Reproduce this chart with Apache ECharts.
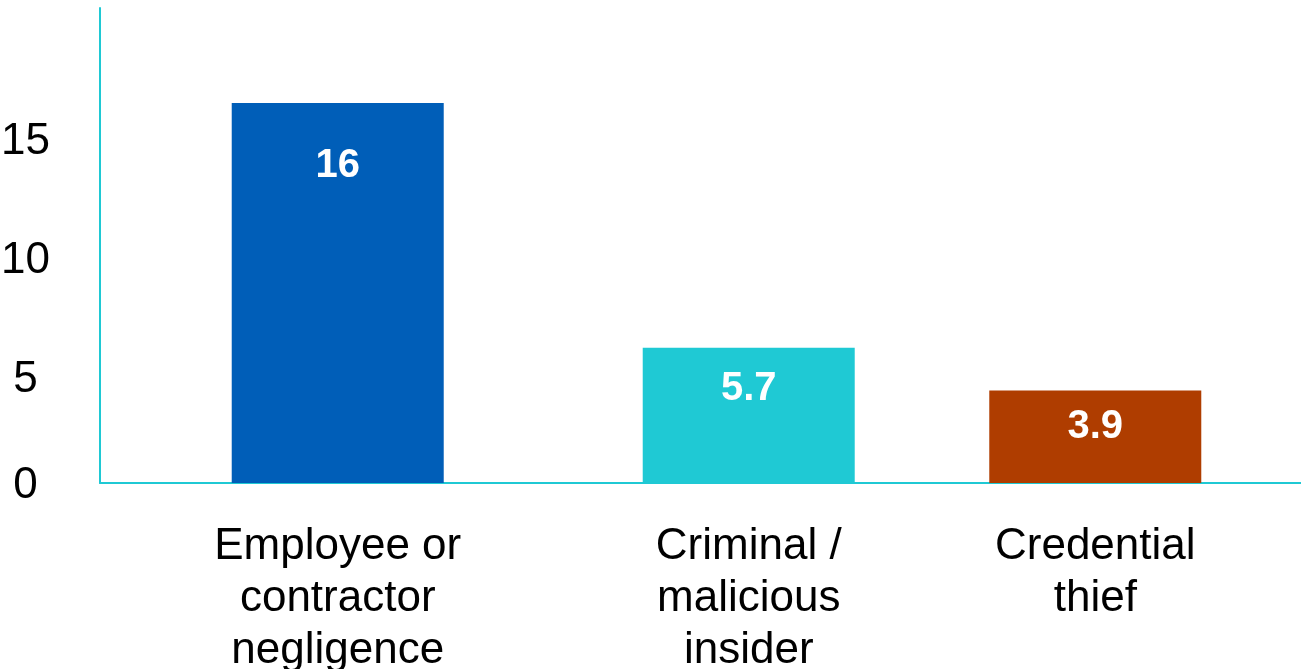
<!DOCTYPE html>
<html>
<head>
<meta charset="utf-8">
<script src="https://cdn.jsdelivr.net/npm/echarts@6/dist/echarts.min.js"></script>
<style>
html, body { margin: 0; padding: 0; background: #ffffff; }
#chart { width: 1301px; height: 669px; }
</style>
</head>
<body>
<div id="chart"></div>
<script>
// ---- data ----
const categories = ['Employee or\ncontractor\nnegligence', 'Criminal /\nmalicious\ninsider', 'Credential\nthief'];
const values = [16, 5.7, 3.9];

// ---- styling (kept apart from data) ----
const barColors = ['#005EB8', '#1FC9D4', '#AF3D00'];
const valueLabelDistance = [43, 21, 17];
const barSlot = [1, 1, 0];          // which of two bar slots each category's bar occupies
const FONT = '"Liberation Sans", Arial, Helvetica, sans-serif';
const AXIS_COLOR = '#1FC9D4';
const BAR_WIDTH = 212;
const BAR_GAP = -0.696;
const GRID_LEFT = 100, GRID_RIGHT = -32, GRID_TOP = 8, GRID_BOTTOM = 186;

const slotShift = BAR_WIDTH * (1 + BAR_GAP) / 2;

function seriesFor(slot) {
  return values.map(function (v, i) {
    if (barSlot[i] !== slot) return '-';
    return {
      value: v,
      itemStyle: { color: barColors[i] },
      label: { distance: valueLabelDistance[i] }
    };
  });
}

const catRich = {};
categories.forEach(function (c, i) {
  const s = (barSlot[i] === 1 ? 1 : -1) * slotShift;
  catRich['c' + i] = {
    fontSize: 44, lineHeight: 52, color: '#000000', fontFamily: FONT,
    padding: s > 0 ? [0, 0, 0, 2 * s] : [0, -2 * s, 0, 0]
  };
});

const barLabel = {
  show: true,
  position: 'insideTop',
  color: '#ffffff',
  fontFamily: FONT,
  fontWeight: 'bold',
  fontSize: 40,
  formatter: '{c}'
};

const chart = echarts.init(document.getElementById('chart'), null, { renderer: 'canvas' });
chart.setOption({
  animation: false,
  backgroundColor: '#ffffff',
  grid: {
    left: GRID_LEFT, right: GRID_RIGHT, top: GRID_TOP, bottom: GRID_BOTTOM,
    containLabel: false, outerBoundsMode: 'none'
  },
  xAxis: {
    type: 'category',
    data: categories,
    axisLine: { show: true, lineStyle: { color: AXIS_COLOR, width: 2 } },
    axisTick: { show: false },
    splitLine: { show: false },
    axisLabel: {
      interval: 0,
      margin: 38,
      fontSize: 44,
      lineHeight: 52,
      color: '#000000',
      fontFamily: FONT,
      formatter: function (value, idx) {
        return value.split('\n').map(function (line) { return '{c' + idx + '|' + line + '}'; }).join('\n');
      },
      rich: catRich
    }
  },
  yAxis: {
    type: 'value',
    min: 0,
    max: 20,
    interval: 5,
    axisLine: { show: true, lineStyle: { color: AXIS_COLOR, width: 2 } },
    axisTick: { show: false },
    splitLine: { show: false },
    axisLabel: {
      align: 'center',
      margin: 74.5,
      fontSize: 44,
      color: '#000000',
      fontFamily: FONT,
      showMaxLabel: false,
      formatter: function (v) {
        if (v >= 20) return '';
        if (v === 0) return '{z|0}';
        return '{s|' + v + '}';
      },
      rich: {
        s: { fontSize: 44, color: '#000000', fontFamily: FONT, padding: [31, 0, 0, 0] },
        z: { fontSize: 44, color: '#000000', fontFamily: FONT, padding: [6, 0, 0, 0] }
      }
    }
  },
  series: [
    {
      type: 'bar',
      name: 'slot0',
      barWidth: BAR_WIDTH,
      barGap: (BAR_GAP * 100) + '%',
      data: seriesFor(0),
      label: barLabel
    },
    {
      type: 'bar',
      name: 'slot1',
      barWidth: BAR_WIDTH,
      barGap: (BAR_GAP * 100) + '%',
      data: seriesFor(1),
      label: barLabel
    }
  ]
});
</script>
</body>
</html>
